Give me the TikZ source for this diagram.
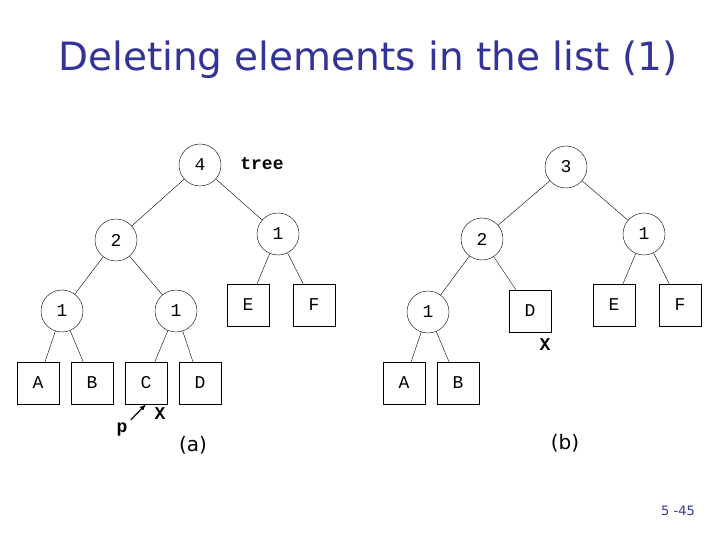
\documentclass[tikz,border=0pt]{standalone}
\usepackage{fontspec}
\setmainfont{Liberation Mono}
\newfontfamily\titlefont{DejaVu Sans}
\usetikzlibrary{positioning}
\definecolor{titleblue}{RGB}{51,51,153}
\tikzset{
  inner/.style={draw,circle,minimum size=42pt,inner sep=0pt,font=\fontsize{18}{18}\selectfont},
  leaf/.style={draw,rectangle,minimum size=42pt,inner sep=0pt,font=\fontsize{18}{18}\selectfont},
  tag/.style={font=\fontsize{18}{18}\selectfont\bfseries},
  caption/.style={font=\titlefont\fontsize{20}{20}\selectfont}
}
\begin{document}
\begin{tikzpicture}[x=1pt,y=-1pt]
\useasboundingbox (0,0) rectangle (720,540);
\node (title) at (368,60) [text=titleblue,font=\titlefont\fontsize{39}{39}\selectfont] {Deleting elements in the list (1)};

% tree (a)
\node (a4) at (200,165) [inner] {4};
\node (a2) at (116,240) [inner] {2};
\node (a1r) at (278,234) [inner] {1};
\node (a1l) at (62,311) [inner] {1};
\node (a1m) at (176,311) [inner] {1};
\node (aA) at (38,383) [leaf] {A};
\node (aB) at (92,383) [leaf] {B};
\node (aC) at (146,383) [leaf] {C};
\node (aD) at (200,383) [leaf] {D};
\node (aE) at (248,305) [leaf] {E};
\node (aF) at (314,305) [leaf] {F};
\node (tree) at (262,164) [tag] {tree};
\node (p) at (122,430) [tag] {p};
\node (xa) at (160,414) [tag] {X};
\node (capa) at (193,445) [caption] {(a)};
\draw (a4) -- (a2);
\draw (a4) -- (a1r);
\draw (a2) -- (a1l);
\draw (a2) -- (a1m);
\draw (a1l) -- (aA);
\draw (a1l) -- (aB);
\draw (a1m) -- (aC);
\draw (a1m) -- (aD);
\draw (a1r) -- (aE);
\draw (a1r) -- (aF);
\draw[-latex,line width=1.2pt] (p.north east) -- (aC.south);

% tree (b)
\node (b3) at (566,167) [inner] {3};
\node (b2) at (482,239) [inner] {2};
\node (b1r) at (644,234) [inner] {1};
\node (b1l) at (428,312) [inner] {1};
\node (bD) at (530,311) [leaf] {D};
\node (bE) at (614,305) [leaf] {E};
\node (bF) at (680,305) [leaf] {F};
\node (bA) at (404,383) [leaf] {A};
\node (bB) at (458,383) [leaf] {B};
\node (xb) at (545,345) [tag] {X};
\node (capb) at (565,443) [caption] {(b)};
\draw (b3) -- (b2);
\draw (b3) -- (b1r);
\draw (b2) -- (b1l);
\draw (b2) -- (bD);
\draw (b1l) -- (bA);
\draw (b1l) -- (bB);
\draw (b1r) -- (bE);
\draw (b1r) -- (bF);

\node (page) at (678,511) [text=titleblue,font=\titlefont\fontsize{13}{13}\selectfont] {5 -45};
\end{tikzpicture}
\end{document}
